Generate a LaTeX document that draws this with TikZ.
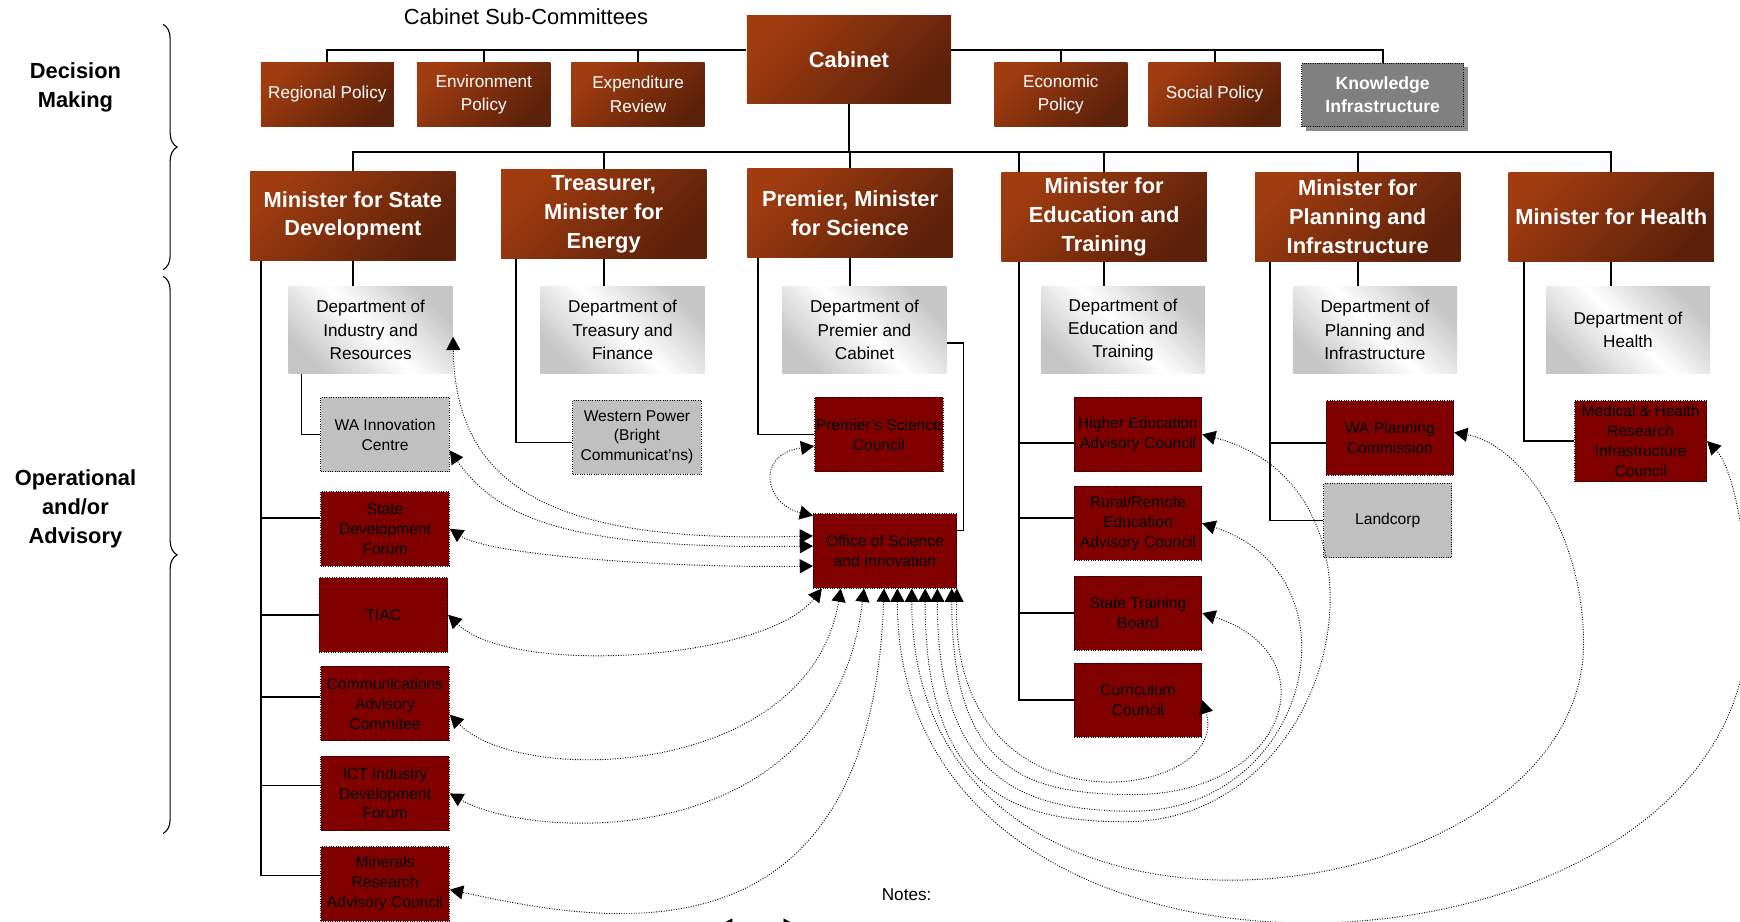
\documentclass[tikz,border=0pt]{standalone}
\usepackage{fontspec}
\setmainfont{Liberation Sans}
\usetikzlibrary{arrows.meta,decorations.pathreplacing,shadows}
\definecolor{brownlight}{RGB}{160,60,16}
\definecolor{browndark}{RGB}{92,33,10}
\definecolor{councilred}{RGB}{128,0,0}
\definecolor{boardgrey}{RGB}{192,192,192}

\begin{document}
\begin{tikzpicture}[x=0.025cm,y=-0.025cm,
tree/.style={line width=1.2pt},
link/.style={densely dotted,line width=0.6pt,{Triangle[length=8.5pt,width=9pt]}-{Triangle[length=8.5pt,width=9pt]}},
brownbox/.style={text=white,align=center,inner sep=1pt,top color=brownlight,bottom color=browndark,shading angle=45},
subbox/.style={brownbox,minimum width=3cm,minimum height=1.45cm,font=\fontsize{11}{15}\selectfont},
minbox/.style={brownbox,minimum width=4.625cm,minimum height=2cm,font=\bfseries\fontsize{14}{18.5}\selectfont},
deptbox/.style={align=center,inner sep=1pt,minimum width=3.7cm,minimum height=1.975cm,
  top color=gray!45,bottom color=gray!45,middle color=white,shading angle=-45,font=\fontsize{11}{15}\selectfont},
council/.style={draw,densely dotted,line width=0.5pt,fill=councilred,align=center,inner sep=0pt,
  minimum width=2.9cm,minimum height=1.675cm,font=\fontsize{10}{12.8}\selectfont},
greycouncil/.style={council,fill=boardgrey},
sidetext/.style={align=center,font=\bfseries\fontsize{14}{18.5}\selectfont}]
\useasboundingbox (0,0) rectangle (1568,830);

\node[sidetext] (decision) at (68,79) {Decision\\Making};
\node[sidetext] (operational) at (68,458.5) {Operational\\and/or\\Advisory};
\draw[decorate,decoration={brace,amplitude=9pt},line width=0.7pt] (147,22) -- (147,243);
\draw[decorate,decoration={brace,amplitude=9pt},line width=0.7pt] (147,249) -- (147,751);

\node[font=\fontsize{14}{17}\selectfont] (subtitle) at (474,15) {Cabinet Sub-Committees};
\node[brownbox,minimum width=4.6cm,minimum height=1.975cm,font=\bfseries\fontsize{14}{18}\selectfont] (cabinet) at (765,53.5) {Cabinet};
\node[subbox] (regional) at (295,85) {Regional Policy};
\node[subbox] (environment) at (436,85) {Environment\\Policy};
\node[subbox] (expenditure) at (575,85) {Expenditure\\Review};
\node[subbox] (economic) at (956,85) {Economic\\Policy};
\node[subbox,minimum width=2.975cm] (social) at (1094.5,85) {Social Policy};
\node[draw,densely dotted,fill=gray,text=white,align=center,minimum width=3.65cm,minimum height=1.425cm,
  font=\bfseries\fontsize{11.3}{15}\selectfont,general shadow={fill=gray!90,shadow xshift=2.6pt,shadow yshift=-2.6pt}]
  (knowledge) at (1246,85.5) {Knowledge\\Infrastructure};

\node[minbox] (mstate) at (318,194.5) {Minister for State\\Development};
\node[minbox] (mtreasurer) at (544,193) {Treasurer,\\Minister for\\Energy};
\node[minbox] (mpremier) at (766,192) {Premier, Minister\\for Science};
\node[minbox] (meducation) at (995,195.5) {Minister for\\Education and\\Training};
\node[minbox] (mplanning) at (1223.5,195.5) {Minister for\\Planning and\\Infrastructure};
\node[minbox] (mhealth) at (1452,195.5) {Minister for Health};

\node[deptbox] (dindustry) at (334,297.5) {Department of\\Industry and\\Resources};
\node[deptbox] (dtreasury) at (561,297.5) {Department of\\Treasury and\\Finance};
\node[deptbox] (dpremier) at (779,297.5) {Department of\\Premier and\\Cabinet};
\node[deptbox] (deducation) at (1012,297.5) {Department of\\Education and\\Training};
\node[deptbox] (dplanning) at (1239,297.5) {Department of\\Planning and\\Infrastructure};
\node[deptbox] (dhealth) at (1467,297.5) {Department of\\Health};

\node[greycouncil] (wainnovation) at (347,391.5) {WA Innovation\\Centre};
\node[council] (sdforum) at (347,476.5) {State\\Development\\Forum};
\node[council] (tiac) at (345.5,554) {TIAC};
\node[council] (comm) at (347,634) {Communications\\Advisory\\Commitee};
\node[council] (ict) at (347,715) {ICT Industry\\Development\\Forum};
\node[council] (minerals) at (347,796.5) {Minerals\\Research\\Advisory Council};
\node[greycouncil] (westernpower) at (574,394) {Western Power\\(Bright\\Communicat'ns)};
\node[council] (sciencecouncil) at (792,391.5) {Premier's Science\\Council};
\node[council,minimum width=3.225cm] (osi) at (797.5,496.5) {Office of Science\\and Innovation};
\node[council,minimum width=2.875cm] (higheredu) at (1025.5,391.5) {Higher Education\\Advisory Council};
\node[council,minimum width=2.875cm] (rural) at (1025.5,471.5) {Rural/Remote\\Education\\Advisory Council};
\node[council,minimum width=2.875cm] (stb) at (1025.5,552.5) {State Training\\Board};
\node[council,minimum width=2.875cm] (curriculum) at (1025.5,631) {Curriculum\\Council};
\node[council,minimum width=2.875cm] (wapc) at (1252.5,394.5) {WA Planning\\Commission};
\node[greycouncil,minimum width=2.875cm] (landcorp) at (1250.5,469) {Landcorp};
\node[council,minimum width=2.975cm,minimum height=1.825cm] (medical) at (1478.5,397.5) {Medical \& Health\\Research\\Infrastructure\\Council};

\node[font=\fontsize{11}{13}\selectfont] (notes) at (817,806) {Notes:};

\coordinate (subbar) at (297,45);
\coordinate (minbar) at (318,137);
\draw[tree] (regional.north) |- (subbar -| cabinet.west);
\draw[tree] (cabinet.east |- subbar) -| (knowledge.north);
\foreach \n in {environment,expenditure,economic,social}
  \draw[tree] (\n.north) -- (\n.north |- subbar);
\draw[tree] (cabinet.south) -- (cabinet.south |- minbar);
\draw[tree] (mstate.north) |- (minbar -| mhealth.north) -- (mhealth.north);
\foreach \n in {mtreasurer,mpremier,meducation,mplanning}
  \draw[tree] (\n.north) -- (\n.north |- minbar);
\foreach \m/\d in {mstate/dindustry,mtreasurer/dtreasury,mpremier/dpremier,meducation/deducation,mplanning/dplanning,mhealth/dhealth}
  \draw[tree] (\m.south) -- (\m.south |- \d.north);

\coordinate (sdspine) at ([xshift=0.25cm]mstate.south west);
\draw[tree] (sdspine) |- ([yshift=0.19cm]minerals.west);
\draw[tree] ([yshift=0.24cm]sdforum.west) -| (sdspine);
\draw[tree] (tiac.west) -| (sdspine);
\draw[tree] ([yshift=0.15cm]comm.west) -| (sdspine);
\draw[tree] ([yshift=0.18cm]ict.west) -| (sdspine);
\draw[tree] ([xshift=0.3cm]dindustry.south west) |- (wainnovation.west);
\draw[tree] ([xshift=0.35cm]mtreasurer.south west) |- ([yshift=-0.12cm]westernpower.west);
\draw[tree] ([xshift=0.25cm]mpremier.south west) |- (sciencecouncil.west);
\draw[tree] ([yshift=-0.29cm]dpremier.east) -- ++(15,0) |- ([yshift=0.46cm]osi.east);

\coordinate (edutop) at ([xshift=0.4cm]meducation.north west);
\coordinate (eduspine) at ([xshift=0.4cm]meducation.south west);
\draw[tree] (edutop) -- (edutop |- minbar);
\draw[tree] (eduspine) |- (curriculum.west);
\draw[tree] ([yshift=-0.19cm]higheredu.west) -| (eduspine);
\draw[tree] ([yshift=0.11cm]rural.west) -| (eduspine);
\draw[tree] (stb.west) -| (eduspine);

\coordinate (planspine) at ([xshift=0.35cm]mplanning.south west);
\draw[tree] (planspine) |- (landcorp.west);
\draw[tree] ([yshift=-0.11cm]wapc.west) -| (planspine);
\draw[tree] ([xshift=0.35cm]mhealth.south west) |- (medical.west);

\draw[link] ([yshift=0.34cm]osi.west) .. controls +(-233,7) and +(2,137) .. ([yshift=-0.15cm]dindustry.east);
\draw[link] ([yshift=0.11cm]osi.west) .. controls +(-213,3) and +(45,64) .. ([yshift=-0.36cm]wainnovation.east);
\draw[link] ([yshift=-0.34cm]osi.west) .. controls +(-133,2) and +(35,23.5) .. (sdforum.east);
\draw[link] ([yshift=-0.05cm]osi.north west) .. controls +(-43,-10) and +(-54,8) .. ([yshift=-0.26cm]sciencecouncil.west);
\draw[link] ([xshift=0.2cm]osi.south west) .. controls +(-51,65) and +(57,56) .. (tiac.east);
\draw[link] ([xshift=0.625cm]osi.south west) .. controls +(-28,170) and +(65,66) .. ([yshift=-0.25cm]comm.east);
\draw[link] ([xshift=1.15cm]osi.south west) .. controls +(-29,240) and +(75,43) .. (ict.east);
\draw[link] ([xshift=1.6cm]osi.south west) .. controls +(-12,350) and +(135,29) .. ([yshift=-0.13cm]minerals.east);
\draw[link] (osi.south east) .. controls +(-7,230) and +(28,90) .. (curriculum.east);
\draw[link] ([xshift=3.125cm]osi.south west) .. controls +(0,160) and +(-101,0) .. (1021,716)
  .. controls +(139,0) and +(117,37.5) .. (stb.east);
\draw[link] ([xshift=2.8cm]osi.south west) .. controls +(0,170) and +(-100,0) .. (1020,731)
  .. controls +(160,0) and +(147,48.5) .. (rural.east);
\draw[link] ([xshift=2.525cm]osi.south west) .. controls +(0,180) and +(-104,0) .. (1014,740.5)
  .. controls +(196,0) and +(187,48.5) .. (higheredu.east);
\draw[link] ([xshift=2.225cm]osi.south west) .. controls +(0,380) and +(0,250) .. (1427,580)
  .. controls +(0,-100) and +(60,10.5) .. ([yshift=0.12cm]wapc.east);
\draw[link] ([xshift=1.9cm]osi.south west) .. controls +(0,420) and +(0,340) .. (1575,560)
  .. controls +(0,-80) and +(22,22.5) .. (medical.east);

\coordinate (legleft) at (648,834);
\coordinate (legright) at (718,834);
\draw[link] (legleft) -- (legright);
\end{tikzpicture}
\end{document}
